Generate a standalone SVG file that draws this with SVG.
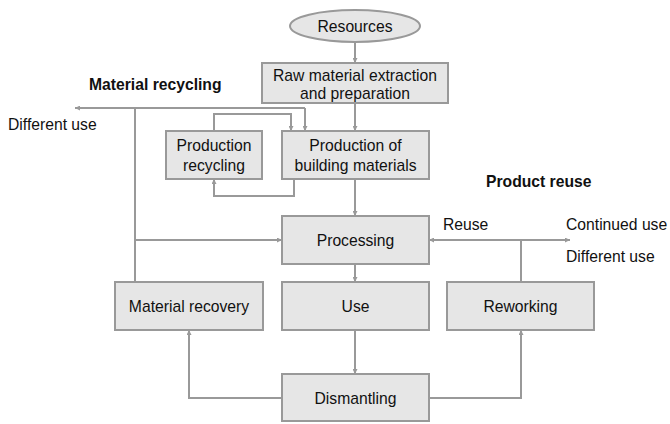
<svg xmlns="http://www.w3.org/2000/svg" width="670" height="424" viewBox="0 0 670 424">
<defs>
<marker id="ah" viewBox="0 0 10 10" refX="10" refY="5" markerWidth="5" markerHeight="5" orient="auto" markerUnits="userSpaceOnUse"><path d="M0,0 L10,5 L0,10 z" fill="#999"/></marker>
</defs>
<style>
.box{fill:#e6e6e6;stroke:#999;stroke-width:2}
.t{font-family:"Liberation Sans",Arial,sans-serif;font-size:15.7px;fill:#111;text-anchor:middle;dominant-baseline:central}
.l{font-family:"Liberation Sans",Arial,sans-serif;font-size:15.7px;fill:#111;dominant-baseline:central}
.b{font-weight:bold}
.c{fill:none;stroke:#999;stroke-width:2}
</style>
<rect width="670" height="424" fill="#fff"/>
<g id="connectors">
<path class="c" d="M355,43 V63" marker-end="url(#ah)"/>
<path class="c" d="M355,103 V131" marker-end="url(#ah)"/>
<path class="c" d="M305,108 H75" marker-end="url(#ah)"/>
<path class="c" d="M305,108 V131" marker-end="url(#ah)"/>
<path class="c" d="M135,108 V282"/>
<path class="c" d="M214,131 V114 H291 V131" marker-end="url(#ah)"/>
<path class="c" d="M294,179 V196 H214 V179" marker-end="url(#ah)"/>
<path class="c" d="M355,179 V216" marker-end="url(#ah)"/>
<path class="c" d="M135,240 H282" marker-end="url(#ah)"/>
<path class="c" d="M355,264 V282" marker-end="url(#ah)"/>
<path class="c" d="M355,330 V374" marker-end="url(#ah)"/>
<path class="c" d="M282,398 H189 V330" marker-end="url(#ah)"/>
<path class="c" d="M429,398 H521 V330" marker-end="url(#ah)"/>
<path class="c" d="M521,282 V240"/>
<path class="c" d="M521,240 H429" marker-end="url(#ah)"/>
<path class="c" d="M521,240 H570" marker-end="url(#ah)"/>
</g>
<g id="resources"><ellipse class="box" cx="355" cy="26" rx="65" ry="16"/><text class="t" x="355" y="26">Resources</text></g>
<g id="raw"><rect class="box" x="262" y="63" width="186" height="40"/><text class="t" x="355" y="75">Raw material extraction</text><text class="t" x="355" y="93">and preparation</text></g>
<g id="prodrec"><rect class="box" x="166" y="131" width="96" height="48"/><text class="t" x="214" y="145">Production</text><text class="t" x="214" y="165">recycling</text></g>
<g id="prodbm"><rect class="box" x="282" y="131" width="147" height="48"/><text class="t" x="355.5" y="145">Production of</text><text class="t" x="355.5" y="165">building materials</text></g>
<g id="processing"><rect class="box" x="282" y="216" width="147" height="48"/><text class="t" x="355.5" y="240">Processing</text></g>
<g id="matrec"><rect class="box" x="115" y="282" width="148" height="48"/><text class="t" x="189" y="306">Material recovery</text></g>
<g id="use"><rect class="box" x="282" y="282" width="147" height="48"/><text class="t" x="355.5" y="306">Use</text></g>
<g id="reworking"><rect class="box" x="447" y="282" width="147" height="48"/><text class="t" x="520.5" y="306">Reworking</text></g>
<g id="dismantling"><rect class="box" x="282" y="374" width="147" height="47"/><text class="t" x="355.5" y="398">Dismantling</text></g>
<g id="labels">
<text class="l b" x="89" y="84">Material recycling</text>
<text class="l" x="8" y="124">Different use</text>
<text class="l b" x="486" y="181">Product reuse</text>
<text class="l" x="443" y="224">Reuse</text>
<text class="l" x="566" y="224">Continued use</text>
<text class="l" x="566" y="256">Different use</text>
</g>
</svg>
